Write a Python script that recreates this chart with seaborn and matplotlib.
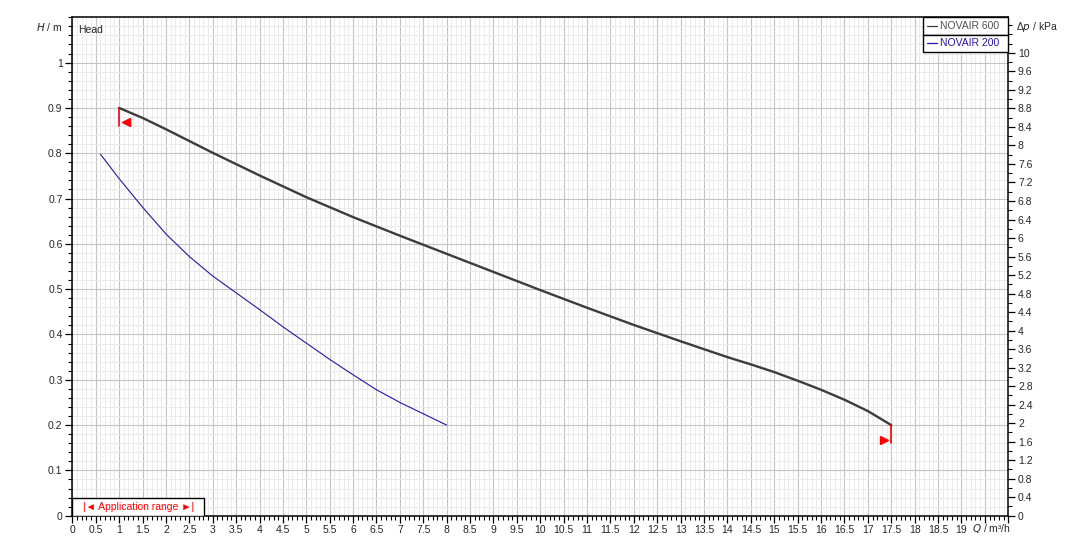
import numpy as np
import pandas as pd
import matplotlib
matplotlib.use("Agg")
import matplotlib.pyplot as plt
import seaborn as sns
from matplotlib.patches import Rectangle
from matplotlib.ticker import MultipleLocator, FixedLocator, FuncFormatter

# pump curves (Q in m3/h, H in m)
q600 = [1.0, 1.5, 2.0, 2.5, 3.0, 4.0, 5.0, 6.0, 7.0, 8.0, 9.0, 10.0, 11.0,
        12.0, 13.0, 14.0, 14.5, 15.0, 15.5, 16.0, 16.5, 17.0, 17.5]
h600 = [0.900, 0.878, 0.853, 0.827, 0.801, 0.751, 0.703, 0.659, 0.618, 0.578,
        0.538, 0.498, 0.459, 0.421, 0.385, 0.350, 0.334, 0.317, 0.298, 0.278,
        0.256, 0.231, 0.200]
q200 = [0.6, 1.0, 1.5, 2.0, 2.5, 3.0, 3.5, 4.0, 4.5, 5.0, 5.5, 6.0, 6.5, 7.0,
        7.5, 8.0]
h200 = [0.798, 0.744, 0.681, 0.622, 0.572, 0.529, 0.492, 0.455, 0.417, 0.381,
        0.345, 0.311, 0.278, 0.250, 0.225, 0.200]
names = ["NOVAIR 600", "NOVAIR 200"]

KPA_PER_M = 9.79

sns.set_style("white")
plt.rcParams['font.family'] = ['Liberation Sans', 'DejaVu Sans']
plt.rcParams['font.size'] = 7.5

df = pd.concat([
    pd.DataFrame({"Q": q600, "H": h600, "pump": names[0]}),
    pd.DataFrame({"Q": q200, "H": h200, "pump": names[1]}),
])

fig = plt.figure(figsize=(10.81, 5.51), dpi=100)
ax = fig.add_axes([0.0669, 0.064, 0.8658, 0.9046])

c600, c200 = "#3c3c3c", "#2a14a8"
sns.lineplot(data=df[df.pump == names[0]], x="Q", y="H", ax=ax, color=c600,
             lw=1.7, estimator=None, sort=False, zorder=4)
sns.lineplot(data=df[df.pump == names[1]], x="Q", y="H", ax=ax, color=c200,
             lw=0.8, estimator=None, sort=False, zorder=4)

# application range markers at the ends of the NOVAIR 600 curve
for q, h, m, dx in [(q600[0], h600[0], "<", 0.15), (q600[-1], h600[-1], ">", -0.15)]:
    ax.plot([q, q], [h, h - 0.04], color="red", lw=1.2, zorder=5)
    ax.plot(q + dx, h - 0.032, marker=m, color="red", ms=5.5, zorder=5)

ax.set_xlim(0, 20)
ax.set_ylim(0, 1.1)
ax.xaxis.set_major_locator(MultipleLocator(0.5))
ax.xaxis.set_minor_locator(MultipleLocator(0.1))
ax.yaxis.set_major_locator(FixedLocator(np.round(np.arange(0, 1.01, 0.1), 2)))
ax.yaxis.set_minor_locator(MultipleLocator(0.02))
ax.xaxis.set_major_formatter(FuncFormatter(lambda v, p: "" if v > 19.4 else f"{v:g}"))
ax.yaxis.set_major_formatter(FuncFormatter(lambda v, p: f"{v:g}"))
ax.grid(which="minor", color="#ebebeb", lw=0.7)
ax.grid(which="major", color="#c4c4c4", lw=0.8)
ax.set_axisbelow(True)
ax.tick_params(which="major", direction="out", length=5, width=0.9, color="black",
               labelsize=7.5, pad=2, bottom=True, left=True)
ax.tick_params(which="minor", direction="out", length=3, width=0.8, color="black",
               bottom=True, left=True)
for s in ax.spines.values():
    s.set_color("black")
    s.set_linewidth(1.1)
ax.set_xlabel("")
ax.set_ylabel("")

# right axis in kPa
ax2 = ax.twinx()
ax2.set_ylim(0, 1.1 * KPA_PER_M)
ax2.yaxis.set_major_locator(FixedLocator(np.round(np.arange(0, 10.01, 0.4), 2)))
ax2.yaxis.set_minor_locator(MultipleLocator(0.2))
ax2.yaxis.set_major_formatter(FuncFormatter(lambda v, p: f"{v:g}"))
ax2.tick_params(which="major", direction="out", length=5, width=0.9, color="black",
                labelsize=7.5, pad=2, right=True)
ax2.tick_params(which="minor", direction="out", length=3, width=0.8, color="black",
                right=True)
ax2.grid(False)
for s in ax2.spines.values():
    s.set_visible(False)

# axis titles
fig.text(62 / 1081, 1 - 27 / 551, "$H$ / m", ha="right", va="center", fontsize=7.5)
ax.text(0.006, 0.985, "Head", transform=ax.transAxes, ha="left", va="top", fontsize=7.5)
fig.text(1016 / 1081, 1 - 27 / 551, "Δ$p$ / kPa", ha="left", va="center", fontsize=7.5)
ax.text(1.003, -0.012, "$Q$ / m³/h", transform=ax.transAxes, ha="right", va="top",
        fontsize=7.5)

# legend box
lx0 = 0.9089
rows = [(1.0, 0.9645), (0.9645, 0.9304)]
for (top, bot), name, col in zip(rows, names, [c600, c200]):
    ax.add_patch(Rectangle((lx0, bot), 1 - lx0, top - bot, transform=ax.transAxes,
                           facecolor="white", edgecolor="black", lw=1.0, zorder=6,
                           clip_on=False))
    ym = (top + bot) / 2
    ax.plot([lx0 + 0.004, lx0 + 0.015], [ym, ym], transform=ax.transAxes,
            color=col, lw=0.9, zorder=7, clip_on=False)
    ax.text(lx0 + 0.018, ym, name, transform=ax.transAxes, ha="left", va="center",
            color="#505050" if col == c600 else col, fontsize=7.5, zorder=7)

# application range box
ax.add_patch(Rectangle((0, 0), 0.1407, 0.0361, transform=ax.transAxes,
                       facecolor="white", edgecolor="black", lw=1.0, zorder=6))
ax.text(0.1407 / 2, 0.0361 / 2, "|◄ Application range ►|", transform=ax.transAxes,
        ha="center", va="center", color="red", fontsize=7.5, zorder=7,
        family=['Liberation Sans', 'DejaVu Sans'])

fig.savefig("out.png", dpi=100)
